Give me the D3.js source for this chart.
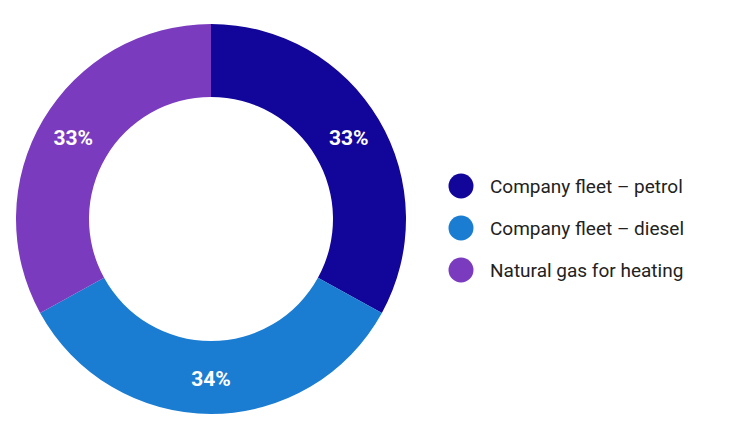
<!DOCTYPE html>
<html><head><meta charset="utf-8">
<script src="https://cdn.jsdelivr.net/npm/d3@7/dist/d3.min.js"></script>
<style>body{margin:0;background:#fff}</style></head>
<body><svg width="750" height="444"></svg>
<script>
const categories = ["Company fleet – petrol","Company fleet – diesel","Natural gas for heating"];
const values = [33,34,33];
const colors = ["#12059a","#1a7dd2","#7a3bbf"];
const svg = d3.select("svg");
const g = svg.append("g").attr("transform","translate(211,219)");
const pie = d3.pie().sort(null).value(d=>d)(values);
const arc = d3.arc().innerRadius(122).outerRadius(195);
const lab = d3.arc().innerRadius(160).outerRadius(160);
g.selectAll("path").data(pie).join("path").attr("d",arc).attr("fill",(d,i)=>colors[i]);
g.selectAll("text").data(pie).join("text")
 .attr("transform",d=>{const c=lab.centroid(d);return `translate(${c[0]},${c[1]})`;})
 .attr("text-anchor","middle").attr("dy","0.35em")
 .attr("font-family","Roboto, sans-serif").attr("font-weight","bold").attr("font-size",21)
 .attr("fill","#fff").text(d=>d.data+"%");
const lg = svg.append("g");
categories.forEach((c,i)=>{
 const y=186+i*42;
 lg.append("circle").attr("cx",461).attr("cy",y).attr("r",12.5).attr("fill",colors[i]);
 lg.append("text").attr("x",490).attr("y",y).attr("dy","0.35em").attr("font-family","Roboto, sans-serif")
  .attr("font-size",19).attr("fill","#222").text(c);
});
</script></body></html>
